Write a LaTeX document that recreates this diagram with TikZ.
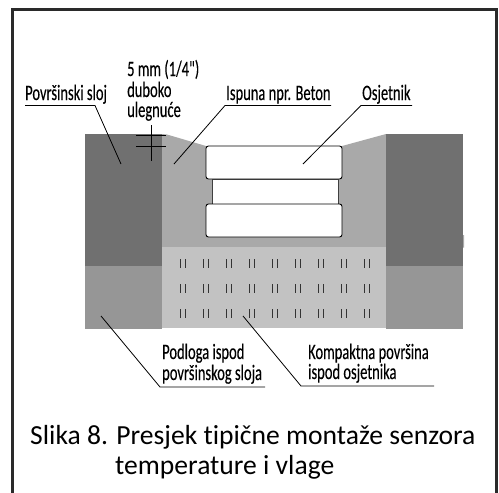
\documentclass[tikz,border=0pt]{standalone}
\usepackage{fontspec}
\setmainfont[Ligatures=NoCommon]{Carlito}
\newfontfamily\lblfont[FakeStretch=0.66,FakeBold=0.2,Ligatures=NoCommon]{Carlito}
\definecolor{darkl}{HTML}{707070}
\definecolor{midl}{HTML}{969696}
\definecolor{fillc}{HTML}{A9A9A9}
\definecolor{compc}{HTML}{C2C2C2}
\definecolor{framec}{HTML}{2A2A2A}
\tikzset{
 lbl/.style={anchor=base west,inner sep=0pt,font=\lblfont\fontsize{22}{22}\selectfont,text=black},
 captext/.style={anchor=base west,inner sep=0pt,font=\fontsize{27.6}{27.6}\selectfont,text=black},
 leader/.style={draw=black,line width=0.8pt},
 sens/.style={draw=black,line width=0.9pt,fill=white,rounded corners=2.5pt},
 tickmark/.style={draw=black!80,line width=0.8pt}
}
\begin{document}
\begin{tikzpicture}[x=1pt,y=-1pt]
\useasboundingbox (0,0) rectangle (499,493);
\begin{scope}
\clip (0,0) rectangle (499,493);
\draw[framec,line width=3pt] (12,9.5) rectangle (496,520);
\end{scope}
% concrete fill
\fill[fillc] (162,134) -- (167,134.5) -- (206,146) -- (342,146) -- (386,134) -- (386,235) -- (464,235) -- (464,247.5) -- (162,247.5) -- cycle;
\fill[compc] (162,247) rectangle (386,328);
% side blocks
\fill[darkl] (85,134) rectangle (162,266);
\fill[midl] (85,266) rectangle (162,329);
\fill[darkl] (386,134) rectangle (463,266);
\fill[midl] (386,266) rectangle (463,329);
% sensor
\draw[draw=black!75,line width=0.8pt,fill=white] (212,179) rectangle (338,204);
\draw[sens] (206,146) rectangle (342,179);
\draw[sens] (206,204) rectangle (342,237);
% ticks
\foreach \cx in {183,206,229,252,275,298,321,344,367}
 \foreach \cy in {259,284,309}{
  \draw[tickmark] (\cx-2.3,\cy) -- (\cx-2.3,\cy+9);
  \draw[tickmark] (\cx+2.3,\cy) -- (\cx+2.3,\cy+9);
 }
% labels
\node[lbl] (lsloj) at (25,100) {Površinski sloj};
\node[lbl] (ldep1) at (127,76) {5 mm (1/4")};
\node[lbl] (ldep2) at (127,97) {duboko};
\node[lbl] (ldep3) at (127,117) {ulegnuće};
\node[lbl] (lisp) at (226,100) {Ispuna npr. Beton};
\node[lbl] (losj) at (362,100) {Osjetnik};
\node[lbl] (lpod1) at (162,359) {Podloga ispod};
\node[lbl] (lpod2) at (162,380) {površinskog sloja};
\node[lbl] (lkom1) at (308,359) {Kompaktna površina};
\node[lbl] (lkom2) at (308,379) {ispod osjetnika};
\node[captext] (cap1) at (30,444) {Slika 8. Presjek tipične montaže senzora};
\node[captext] (cap2) at (115,474) {temperature i vlage};
% leaders
\coordinate (a0) at (25,105.5); \coordinate (a1) at (95,105.5); \coordinate (a2) at (121,164);
\draw[leader] (a0) -- (a1) -- (a2);
\coordinate (b0) at (331,105.5); \coordinate (b1) at (225,105.5); \coordinate (b2) at (174,164);
\draw[leader] (b0) -- (b1) -- (b2);
\coordinate (c0) at (412,105.5); \coordinate (c1) at (361,105.5); \coordinate (c2) at (303,164);
\draw[leader] (c0) -- (c1) -- (c2);
\coordinate (d0) at (101,316); \coordinate (d1) at (160,387); \coordinate (d2) at (265,387);
\draw[leader] (d0) -- (d1) -- (d2);
\coordinate (e0) at (243,316); \coordinate (e1) at (301,386); \coordinate (e2) at (434,386);
\draw[leader] (e0) -- (e1) -- (e2);
% depth cross
\coordinate (f0) at (151,125); \coordinate (f1) at (151,161);
\draw[leader] (f0) -- (f1);
\coordinate (g0) at (136,135); \coordinate (g1) at (166,135);
\draw[leader] (g0) -- (g1);
\coordinate (h0) at (136,146); \coordinate (h1) at (166,146);
\draw[leader] (h0) -- (h1);
\end{tikzpicture}
\end{document}
